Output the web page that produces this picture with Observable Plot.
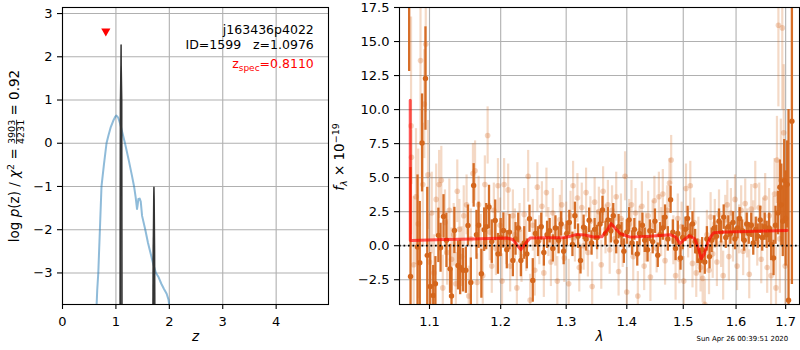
<!DOCTYPE html>
<html><head><meta charset="utf-8">
<script src="https://cdn.jsdelivr.net/npm/d3@7"></script>
<script src="https://cdn.jsdelivr.net/npm/@observablehq/plot@0.6"></script>
<style>
body{margin:0;background:#fff;}
#chart{position:relative;width:800px;height:350px;font-family:"DejaVu Sans";}
#chart svg{position:absolute;top:0;}
</style></head><body><div id="chart"></div>
<script>
// ---------- tick values ----------
const zTicks = [0, 1, 2, 3, 4];
const logpTicks = [-3, -2, -1, 0, 1, 2, 3];
const lamTicks = [1.1, 1.2, 1.3, 1.4, 1.5, 1.6, 1.7];
const fluxTicks = [-2.5, 0, 2.5, 5, 7.5, 10, 12.5, 15, 17.5];

// ---------- left panel: log p(z) ----------
const curveZ = [0.63,0.65,0.67,0.70,0.73,0.775,0.824,0.86,0.90,0.95,0.99,1.01,1.04,1.08,1.12,1.17,1.24,1.30,1.34,1.37,1.395,1.405,1.42,1.445,1.465,1.49,1.55,1.60,1.65,1.70,1.75,1.80,1.85,1.90,1.95,1.985,2.01];
const curveLogp = [-4.0,-3.4,-3.0,-2.0,-1.0,-0.5,0.0,0.18,0.36,0.52,0.62,0.64,0.60,0.45,0.25,0.0,-0.39,-0.75,-1.0,-1.25,-1.52,-1.45,-1.29,-1.28,-1.35,-1.68,-2.0,-2.3,-2.55,-2.8,-3.0,-3.1,-3.25,-3.37,-3.48,-3.62,-3.85];
const spikePeak = ["a","a","a","a","a","a","a","b","b","b","b","b","b","b"];
const spikeZ = [1.080,1.085,1.095,1.097,1.099,1.109,1.114, 1.695,1.700,1.708,1.712,1.716,1.724,1.729];
const spikeLogp = [-4.0,1.0,1.8,2.27,1.8,1.0,-4.0, -4.0,-2.5,-1.3,-1.02,-1.3,-2.5,-4.0];
const zspecMarker = [{z: 0.811, logp: 2.56}];
const objName = "j163436p4022";
const idLine = "ID=1599\u00a0\u00a0\u00a0z=1.0976";
const zspecValue = "=0.8110";
const chiNum = "3903", chiDen = "4231", chiRatio = "0.92";

// ---------- right panel: spectrum ----------
const darkWave = [
 1.073,1.0748,1.084,1.087,1.090,1.0946,1.097,1.101,1.105,1.108,
 1.112,1.115,1.119,1.123,1.128,1.130,1.134,1.139,1.142,1.146,
 1.150,1.153,1.157,1.161,1.165,1.168,1.172,1.176,1.179,1.183,
 1.187,1.192,1.196,1.200,1.204,1.209,1.213,1.218,1.222,1.226,
 1.230,1.235,1.239,1.243,1.248,1.252,1.256,1.261,1.265,1.270,
 1.274,1.279,1.283,1.288,1.292,1.296,1.301,1.305,1.310,1.314,
 1.319,1.323,1.328,1.332,1.337,1.341,1.346,1.350,1.355,1.359,
 1.364,1.368,1.373,1.377,1.382,1.386,1.391,1.395,1.400,1.404,
 1.409,1.413,1.418,1.422,1.427,1.431,1.436,1.440,1.445,1.449,
 1.454,1.458,1.463,1.467,1.472,1.477,1.481,1.486,1.490,1.495,
 1.499,1.504,1.508,1.513,1.517,1.522,1.526,1.531,1.535,1.540,
 1.544,1.549,1.553,1.558,1.562,1.567,1.571,1.576,1.580,1.585,
 1.589,1.594,1.598,1.603,1.607,1.612,1.616,1.621,1.625,1.630,
 1.634,1.639,1.643,1.648,1.652,1.657,1.661,1.666,1.670,1.675,
 1.679,1.684,1.688,1.691,1.694,1.697,1.700,1.703,1.706,1.713];
const darkFlux = [
 19.0,-2.26,-0.1,-1.25,7.55,12.28,-0.71,-3.0,-3.65,-2.8,
 0.76,-0.15,2.15,0.4,-1.7,-3.7,1.12,-1.45,-1.6,-1.8,
 -1.8,1.49,-2.7,4.43,0.8,1.5,-2.06,1.18,1.4,2.84,
 0.3,1.86,-0.6,0.6,1.12,-0.3,1.0,-1.08,0.5,1.3,
 -1.08,0.2,-0.6,1.98,-2.55,0.9,0.3,1.4,-0.5,0.8,
 1.1,-0.2,1.3,0.4,1.6,-0.4,0.9,1.7,0.1,2.2,
 0.7,-1.08,1.35,0.5,1.87,0.2,1.2,0.6,1.6,2.63,
 0.9,1.9,1.1,2.2,0.3,1.4,0.8,-0.4,1.0,1.9,
 0.2,1.2,-0.6,0.9,1.5,0.4,-0.3,1.1,0.3,1.8,
 -0.7,0.8,1.3,2.1,0.5,3.38,1.0,-0.2,0.9,-0.9,
 0.6,1.2,2.0,0.7,1.6,0.3,-0.4,-1.1,-0.3,-1.2,
 0.5,-0.8,0.4,1.3,0.7,1.8,1.0,2.1,0.6,1.4,
 0.9,1.7,0.5,1.3,2.0,1.1,0.4,1.6,0.9,1.5,
 0.2,1.2,0.7,1.9,0.6,1.4,0.8,1.3,0.1,-0.9,
 1.5,2.4,4.3,3.0,1.8,4.8,2.0,4.5,-4.0,9.15];
const darkErr = [
 6.2,8.0,5.3,4.5,3.6,3.8,5.0,2.5,2.2,2.0,
 2.0,1.8,1.6,2.0,1.8,2.0,1.7,1.8,2.0,1.6,
 1.7,1.5,1.8,1.6,1.8,1.7,1.8,1.6,1.7,1.6,
 1.6,1.5,1.5,1.4,1.3,1.4,1.3,1.2,1.2,1.1,
 1.2,1.2,1.1,1.0,1.6,1.0,1.1,1.0,1.0,1.0,
 0.9,1.0,0.9,1.0,0.9,1.0,0.9,0.9,0.9,1.0,
 0.9,1.0,0.9,0.9,0.9,0.9,0.8,0.9,0.9,1.0,
 0.9,0.9,0.9,0.9,0.9,0.9,0.9,0.9,0.9,0.9,
 0.9,0.8,0.9,0.9,0.9,0.9,0.9,0.8,0.9,0.9,
 0.9,0.9,0.9,0.9,0.9,1.0,0.9,0.9,0.9,0.9,
 0.9,0.9,0.9,0.9,0.9,0.9,0.9,0.9,0.9,0.9,
 0.9,0.9,0.9,0.9,0.8,0.9,0.8,0.9,0.8,0.8,
 0.8,0.8,0.8,0.8,0.8,0.8,0.8,0.8,0.8,0.9,
 0.9,0.9,0.9,1.0,1.0,1.0,1.0,1.1,1.2,1.3,
 1.4,1.6,2.0,3.0,2.6,3.0,3.5,3.2,14.0,12.0];

const lightWave = [
 1.0755,1.0760,1.079,1.082,1.085,1.088,1.091,1.093,1.095,1.098,
 1.100,1.103,1.106,1.109,1.113,1.116,1.118,1.121,1.124,1.127,
 1.130,1.133,1.136,1.138,1.141,1.144,1.147,1.151,1.154,1.157,
 1.160,1.163,1.166,1.168,1.171,1.174,1.177,1.181,1.184,1.187,
 1.190,1.193,1.196,1.199,1.202,1.205,1.208,1.211,1.214,1.218,
 1.221,1.224,1.228,1.231,1.235,1.238,1.241,1.244,1.248,1.251,
 1.255,1.258,1.262,1.265,1.269,1.272,1.276,1.279,1.283,1.286,
 1.290,1.293,1.297,1.300,1.304,1.307,1.311,1.314,1.318,1.321,
 1.325,1.328,1.332,1.335,1.339,1.342,1.346,1.350,1.353,1.357,
 1.360,1.364,1.368,1.371,1.375,1.379,1.382,1.386,1.390,1.393,
 1.397,1.400,1.404,1.408,1.411,1.415,1.419,1.422,1.426,1.430,
 1.433,1.437,1.441,1.445,1.448,1.452,1.456,1.460,1.463,1.467,
 1.471,1.475,1.478,1.482,1.486,1.490,1.493,1.497,1.501,1.505,
 1.509,1.513,1.517,1.520,1.524,1.528,1.532,1.536,1.540,1.544,
 1.548,1.551,1.555,1.559,1.563,1.567,1.571,1.575,1.579,1.583,
 1.586,1.590,1.594,1.598,1.602,1.606,1.610,1.614,1.618,1.622,
 1.626,1.630,1.634,1.638,1.642,1.646,1.650,1.654,1.658,1.662,
 1.666,1.670,1.674,1.677,1.680,1.682,1.685,1.688,1.690,1.693,
 1.696,1.699];
const lightFlux = [
 8.8,6.5,-1.4,3.6,1.6,13.6,4.5,10.4,14.8,5.2,
 -1.2,2.4,-2.0,3.4,4.5,4.8,-3.1,1.7,-0.5,2.6,
 -1.0,0.8,-2.8,4.0,1.2,-0.8,2.2,3.0,-3.7,0.5,
 5.3,5.5,-2.7,3.0,0.2,-2.2,4.5,8.1,1.0,-1.5,
 2.6,-0.2,4.4,1.5,-2.6,4.5,0.5,4.1,-1.5,2.2,
 0.8,-3.1,1.2,-0.8,2.3,0.0,5.1,-4.0,1.5,-1.8,
 4.3,0.4,2.9,-2.0,3.9,1.0,-1.2,2.4,0.3,-2.6,
 1.9,3.0,-0.9,1.4,-2.8,2.2,4.4,0.6,3.5,-1.6,
 2.8,0.0,3.9,-0.5,1.8,-3.0,3.2,0.8,2.5,-1.4,
 4.0,1.2,3.0,-0.3,2.6,0.5,3.6,-1.9,2.0,0.2,
 5.1,-3.4,1.6,3.0,-0.8,2.4,-3.7,1.1,2.9,-1.5,
 0.6,2.2,-2.3,1.5,3.3,-0.2,3.6,1.0,3.8,-1.1,
 2.6,4.6,6.3,0.4,-2.2,2.0,-1.0,1.4,-2.6,4.2,
 0.9,4.4,-1.3,1.7,-2.0,0.3,-1.6,-2.4,-4.3,0.8,
 -1.8,2.1,-0.6,1.6,-1.2,2.3,0.2,-2.2,1.9,3.0,
 -0.8,2.4,0.6,3.4,-1.5,1.2,2.6,-0.4,3.1,0.9,
 -2.1,2.7,1.5,4.4,0.3,2.8,-1.0,1.7,3.5,-1.6,
 2.2,-2.2,1.2,3.8,-3.1,6.3,16.2,0.5,4.8,16.0,
 8.3,-1.5];
const lightErr = [
 8.0,2.0,5.0,5.0,5.5,6.0,4.5,4.0,5.0,4.0,
 3.5,3.0,2.8,2.6,2.5,2.5,2.4,2.4,2.4,2.3,
 2.3,2.3,2.3,2.3,2.2,2.2,2.2,2.2,2.2,2.2,
 2.2,2.2,2.1,2.1,2.1,2.1,2.1,2.1,2.1,2.0,
 2.0,2.0,2.0,2.0,2.0,1.9,1.9,1.9,1.9,1.9,
 1.9,1.9,1.9,1.9,1.9,1.9,1.9,1.9,1.9,1.9,
 1.8,1.8,1.8,1.8,1.8,1.8,1.8,1.8,1.8,1.8,
 1.8,1.8,1.8,1.8,1.8,1.8,1.8,1.8,1.8,1.8,
 1.8,1.8,1.8,1.8,1.8,1.8,1.8,1.8,1.8,1.8,
 1.8,1.8,1.8,1.8,1.8,1.8,1.8,1.8,1.8,1.8,
 1.8,1.8,1.8,1.8,1.8,1.8,1.8,1.8,1.8,1.8,
 1.8,1.8,1.8,1.8,1.8,1.8,1.8,1.8,1.8,1.8,
 1.8,1.8,1.8,1.8,1.8,1.8,1.8,1.8,1.8,1.8,
 1.8,1.8,1.8,1.8,1.8,1.8,1.8,1.8,1.8,1.8,
 1.8,1.8,1.8,1.8,1.8,1.8,1.8,1.8,1.8,1.8,
 1.8,1.8,1.8,1.8,1.8,1.8,1.8,1.8,1.8,1.8,
 1.8,1.8,1.8,1.8,1.8,1.8,1.8,1.8,1.8,1.9,
 2.0,2.2,2.4,2.6,3.0,3.2,6.0,4.0,4.5,6.0,
 5.0,5.0];

const modelWave = [1.0744,1.0745,1.0764,1.12,1.16,1.209,1.218,1.225,1.230,1.236,1.244,1.27,1.296,1.307,1.317,1.33,1.344,1.358,1.366,1.3736,1.38,1.389,1.406,1.44,1.476,1.486,1.494,1.503,1.5115,1.521,1.528,1.5335,1.539,1.544,1.55,1.5566,1.58,1.621,1.66,1.703];
const modelFlux = [10.68,0.39,0.39,0.45,0.5,0.56,0.45,0.0,-0.29,0.1,0.56,0.58,0.59,0.7,0.83,0.78,0.64,0.66,1.1,1.62,1.3,0.88,0.63,0.7,0.81,0.65,0.15,0.5,0.73,0.51,-0.2,-0.96,-0.6,0.02,0.6,0.95,1.0,1.05,1.08,1.12];
const dateStamp = "Sun Apr 26 00:39:51 2020";

// ---------- build ----------
const FONT = "DejaVu Sans";
const GRID = {stroke: "#b0b0b0", strokeOpacity: 1, strokeWidth: 1.1};
const ORANGE = "#d4661c";

const curve = curveZ.map((z, i) => ({z, v: curveLogp[i]}));
const spikes = spikeZ.map((z, i) => ({z, v: spikeLogp[i], k: spikePeak[i]}));
const toRows = (w, f, e) => w.map((x, i) => ({w: x, f: f[i], lo: f[i] - e[i], hi: f[i] + e[i]}));
const dark = toRows(darkWave, darkFlux, darkErr);
const light = toRows(lightWave, lightFlux, lightErr);
const model = modelWave.map((w, i) => ({w, f: modelFlux[i]}));

const downTriangle = {
  draw(ctx, size) {
    const s = Math.sqrt(size * 4 / Math.sqrt(3));
    const h = s * Math.sqrt(3) / 2;
    ctx.moveTo(0, h / 2);
    ctx.lineTo(-s / 2, -h / 2);
    ctx.lineTo(s / 2, -h / 2);
    ctx.closePath();
  }
};

const leftSvg = Plot.plot({
  width: 330, height: 350, marginLeft: 62, marginRight: 2, marginTop: 7, marginBottom: 46,
  style: {fontFamily: FONT, fontSize: "13px", background: "transparent", overflow: "visible", color: "black"},
  x: {domain: [0, 4.98]},
  y: {domain: [-3.73, 3.14]},
  marks: [
    Plot.gridX(zTicks, GRID),
    Plot.gridY(logpTicks, GRID),
    Plot.line(curve, {x: "z", y: "v", stroke: "#1f77b4", strokeOpacity: 0.5, strokeWidth: 2, clip: true}),
    Plot.areaY(spikes, {x: "z", y1: -4, y2: "v", z: "k", fill: "#333", clip: true}),
    Plot.line(spikes, {x: "z", y: "v", z: "k", stroke: "#333", strokeWidth: 1.5, clip: true}),
    Plot.dot(zspecMarker, {x: "z", y: "logp", symbol: downTriangle, r: 3.4, fill: "red", stroke: "none"}),
    Plot.text([objName], {frameAnchor: "top-right", dx: -14.7, dy: 17.5, fontSize: 12.5, fill: "black"}),
    Plot.text([idLine], {frameAnchor: "top-right", dx: -14.7, dy: 33, fontSize: 12.5, fill: "black"}),
    Plot.text(["zspec" + zspecValue], {frameAnchor: "top-right", dx: -14.7, dy: 51.8, fontSize: 12.5, fill: "red"}),
    Plot.frame({stroke: "black", strokeWidth: 1.1}),
    Plot.axisX(zTicks, {tickSize: 5, tickPadding: 7.5, label: null, strokeWidth: 1.1, tickFormat: d => String(d)}),
    Plot.axisY(logpTicks, {tickSize: 5, tickPadding: 5, label: null, strokeWidth: 1.1}),
    Plot.text(["z"], {frameAnchor: "bottom", dy: 36.5, fontStyle: "italic", fontSize: 13.5, fill: "black"})
  ]
});

const rightSvg = Plot.plot({
  width: 470, height: 350, marginLeft: 69, marginRight: 1, marginTop: 7, marginBottom: 46,
  style: {fontFamily: FONT, fontSize: "13px", background: "transparent", overflow: "visible", color: "black"},
  x: {type: "log", domain: [1.0604, 1.729]},
  y: {domain: [-4.32, 17.5]},
  marks: [
    Plot.gridX(lamTicks, GRID),
    Plot.gridY(fluxTicks, GRID),
    Plot.ruleX(light, {x: "w", y1: "lo", y2: "hi", stroke: ORANGE, strokeOpacity: 0.25, strokeWidth: 2.2, clip: true}),
    Plot.dot(light, {x: "w", y: "f", r: 2.8, fill: ORANGE, fillOpacity: 0.28, stroke: "none", clip: true}),
    Plot.ruleX(dark, {x: "w", y1: "lo", y2: "hi", stroke: ORANGE, strokeOpacity: 0.95, strokeWidth: 2.3, clip: true}),
    Plot.dot(dark, {x: "w", y: "f", r: 2.7, fill: ORANGE, stroke: "none", clip: true}),
    Plot.line(model, {x: "w", y: "f", stroke: "red", strokeOpacity: 0.65, strokeWidth: 3, clip: true}),
    Plot.ruleY([0], {stroke: "black", strokeWidth: 1.7, strokeDasharray: "1.7,2.8"}),
    Plot.frame({stroke: "black", strokeWidth: 1.1}),
    Plot.axisX(lamTicks, {tickSize: 5, tickPadding: 7.5, label: null, strokeWidth: 1.1, tickFormat: ".1f"}),
    Plot.axisY(fluxTicks, {tickSize: 5, tickPadding: 5, label: null, strokeWidth: 1.1, tickFormat: ".1f"}),
    Plot.text(["λ"], {frameAnchor: "bottom", dy: 36.5, fontStyle: "italic", fontSize: 13.5, fill: "black"}),
    Plot.text([dateStamp], {frameAnchor: "bottom-right", dx: -11.3, dy: 36.3, fontSize: 6.94, fill: "black"})
  ]
});

const chart = document.getElementById("chart");
leftSvg.style.left = "0px";
rightSvg.style.left = "330px";
chart.appendChild(leftSvg);
chart.appendChild(rightSvg);

// z_spec subscript
d3.select(leftSvg).selectAll("text").filter(function () { return this.textContent === "zspec" + zspecValue; })
  .each(function () {
    const t = d3.select(this);
    t.text(null);
    t.append("tspan").text("z");
    t.append("tspan").attr("font-size", 9).attr("dy", 3).text("spec");
    t.append("tspan").attr("dy", -3).text(zspecValue);
  });

// left y label
{
  const g = d3.select(leftSvg).append("g").attr("transform", "translate(19,156) rotate(-90)");
  const t = g.append("text").attr("text-anchor", "middle").attr("font-size", 13.5)
    .attr("fill", "black").style("font-family", FONT);
  t.append("tspan").text("log ");
  t.append("tspan").attr("font-style", "italic").text("p");
  t.append("tspan").text("(z) / ");
  t.append("tspan").attr("font-style", "italic").text("χ");
  t.append("tspan").attr("font-size", 9.5).attr("dy", -5.5).text("2");
  t.append("tspan").attr("dy", 5.5).text("\u00a0=\u00a0");
  const num = t.append("tspan").attr("font-size", 9.5).attr("dy", -3.8).text(chiNum);
  const nw = num.node().getComputedTextLength();
  t.append("tspan").attr("font-size", 9.5).attr("dx", -nw).attr("dy", 9.2).text(chiDen);
  t.append("tspan").attr("dy", -5.4).text("\u00a0=\u00a0" + chiRatio);
  const p0 = num.node().getStartPositionOfChar(0).x;
  g.append("line").attr("x1", p0).attr("x2", p0 + nw).attr("y1", -2.4).attr("y2", -2.4)
    .attr("stroke", "black").attr("stroke-width", 0.8);
}
// right y label
{
  const g = d3.select(rightSvg).append("g").attr("transform", "translate(14,157) rotate(-90)");
  const t = g.append("text").attr("text-anchor", "middle").attr("font-size", 13.5)
    .attr("fill", "black").style("font-family", FONT);
  t.append("tspan").attr("font-style", "italic").text("f");
  t.append("tspan").attr("font-size", 9.5).attr("font-style", "italic").attr("dy", 3).text("λ");
  t.append("tspan").attr("dy", -3).text("\u00a0×\u00a010");
  t.append("tspan").attr("font-size", 9.5).attr("dy", -5.5).text("−19");
}
</script></body></html>
